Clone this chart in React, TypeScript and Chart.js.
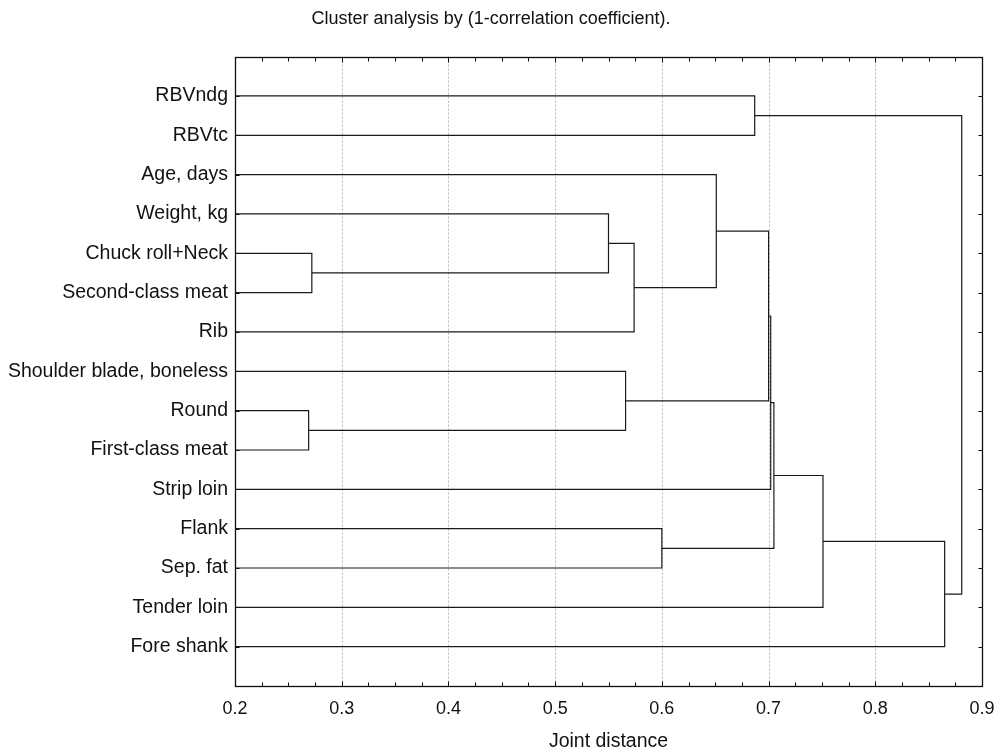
import React, { useEffect, useRef } from "react";
import { Chart, registerables } from "chart.js";

Chart.register(...registerables);

const titleText = "Cluster analysis by (1-correlation coefficient).";
const xAxisTitle = "Joint distance";

// Leaves, top to bottom
const leafLabels = [
  "RBVndg",
  "RBVtc",
  "Age, days",
  "Weight, kg",
  "Chuck roll+Neck",
  "Second-class meat",
  "Rib",
  "Shoulder blade, boneless",
  "Round",
  "First-class meat",
  "Strip loin",
  "Flank",
  "Sep. fat",
  "Tender loin",
  "Fore shank",
];

// Merge steps: node ids 0..14 are leaves, merge k creates node 15+k
const mergeLeft = [4, 8, 3, 17, 7, 11, 2, 0, 21, 23, 24, 25, 26, 22];
const mergeRight = [5, 9, 15, 6, 16, 12, 18, 1, 19, 10, 20, 13, 14, 27];
const mergeDistance = [0.272, 0.269, 0.55, 0.574, 0.566, 0.6, 0.651, 0.687, 0.7, 0.702, 0.705, 0.751, 0.865, 0.881];

const xMin = 0.2;
const xMax = 0.9;
const xTicks = [0.2, 0.3, 0.4, 0.5, 0.6, 0.7, 0.8, 0.9];

const FONT = "'Liberation Sans', Arial, sans-serif";

function buildDatasets() {
  const nodeX: number[] = leafLabels.map(() => xMin);
  const nodeY: number[] = leafLabels.map((_, i) => i);
  const datasets: any[] = [];
  mergeLeft.forEach((a, k) => {
    const b = mergeRight[k];
    const h = mergeDistance[k];
    const ya = nodeY[a];
    const yb = nodeY[b];
    datasets.push({
      data: [
        { x: nodeX[a], y: ya },
        { x: h, y: ya },
        { x: h, y: yb },
        { x: nodeX[b], y: yb },
      ],
      showLine: true,
      borderColor: "#1a1a1a",
      borderWidth: 1.2,
      pointRadius: 0,
      fill: false,
      tension: 0,
    });
    nodeX.push(h);
    nodeY.push((ya + yb) / 2);
  });
  return datasets;
}

const framePlugin = {
  id: "frame",
  beforeDatasetsDraw(chart: any) {
    const { ctx, chartArea, scales } = chart;
    const xs = scales.x;
    ctx.save();
    ctx.strokeStyle = "#b8b8b8";
    ctx.lineWidth = 1;
    ctx.setLineDash([2, 2]);
    xTicks.slice(1, -1).forEach((v) => {
      const px = Math.round(xs.getPixelForValue(v)) + 0.5;
      ctx.beginPath();
      ctx.moveTo(px, chartArea.top);
      ctx.lineTo(px, chartArea.bottom);
      ctx.stroke();
    });
    ctx.restore();
  },
  afterDatasetsDraw(chart: any) {
    const { ctx, chartArea, scales } = chart;
    const xs = scales.x;
    const ys = scales.y;
    const l = Math.round(chartArea.left) + 0.5;
    const r = Math.round(chartArea.right) + 0.5;
    const t = Math.round(chartArea.top) + 0.5;
    const b = Math.round(chartArea.bottom) + 0.5;
    ctx.save();
    ctx.strokeStyle = "#111";
    ctx.lineWidth = 1.3;
    ctx.strokeRect(l, t, r - l, b - t);
    ctx.lineWidth = 1;
    ctx.beginPath();
    for (let v = xMin; v <= xMax + 1e-9; v += 0.025) {
      const px = Math.round(xs.getPixelForValue(v)) + 0.5;
      const major = Math.abs(v * 10 - Math.round(v * 10)) < 1e-6;
      const len = major ? 5 : 4;
      ctx.moveTo(px, t);
      ctx.lineTo(px, t + len);
      ctx.moveTo(px, b);
      ctx.lineTo(px, b - len);
    }
    leafLabels.forEach((_, i) => {
      const py = Math.round(ys.getPixelForValue(i)) + 0.5;
      ctx.moveTo(l, py);
      ctx.lineTo(l + 4, py);
      ctx.moveTo(r, py);
      ctx.lineTo(r - 4, py);
    });
    ctx.stroke();
    ctx.restore();
  },
};

export default function App() {
  const canvasRef = useRef<HTMLCanvasElement | null>(null);

  useEffect(() => {
    document.body.style.margin = "0";
    const canvas = canvasRef.current;
    if (!canvas) return;
    const chart = new Chart(canvas, {
      type: "scatter",
      data: { datasets: buildDatasets() },
      options: {
        animation: false,
        responsive: false,
        maintainAspectRatio: false,
        layout: { padding: { top: 0, right: 19, bottom: 0, left: 0 } },
        plugins: {
          legend: { display: false },
          tooltip: { enabled: false },
          title: {
            display: true,
            text: titleText,
            color: "#111",
            font: { family: FONT, size: 18, weight: "normal" },
            padding: { top: 8, bottom: 27 },
          },
        },
        scales: {
          x: {
            type: "linear",
            min: xMin,
            max: xMax,
            afterBuildTicks: (scale: any) => {
              scale.ticks = xTicks.map((v) => ({ value: v }));
            },
            afterFit: (scale: any) => {
              scale.height = 67;
              scale.paddingLeft = 0;
              scale.paddingRight = 0;
            },
            grid: { display: false, drawTicks: false },
            border: { display: false },
            ticks: {
              color: "#111",
              padding: 12,
              font: { family: FONT, size: 18 },
              callback: (v: any) => Number(v).toFixed(1),
            },
            title: {
              display: true,
              text: xAxisTitle,
              color: "#111",
              font: { family: FONT, size: 19.5 },
              padding: { top: 0, bottom: 0 },
            },
          },
          y: {
            type: "linear",
            min: -1,
            max: 15,
            reverse: true,
            afterBuildTicks: (scale: any) => {
              scale.ticks = leafLabels.map((_, i) => ({ value: i }));
            },
            afterFit: (scale: any) => {
              scale.width = 235;
            },
            grid: { display: false, drawTicks: false },
            border: { display: false },
            ticks: {
              color: "#111",
              padding: 7,
              autoSkip: false,
              font: { family: FONT, size: 19.5 },
              callback: (v: any) => leafLabels[Number(v)] ?? "",
            },
          },
        },
      },
      plugins: [framePlugin],
    });
    return () => chart.destroy();
  }, []);

  return (
    <div style={{ width: 1001, height: 753, background: "#fff" }}>
      <canvas ref={canvasRef} width={1001} height={753} style={{ display: "block" }} />
    </div>
  );
}
